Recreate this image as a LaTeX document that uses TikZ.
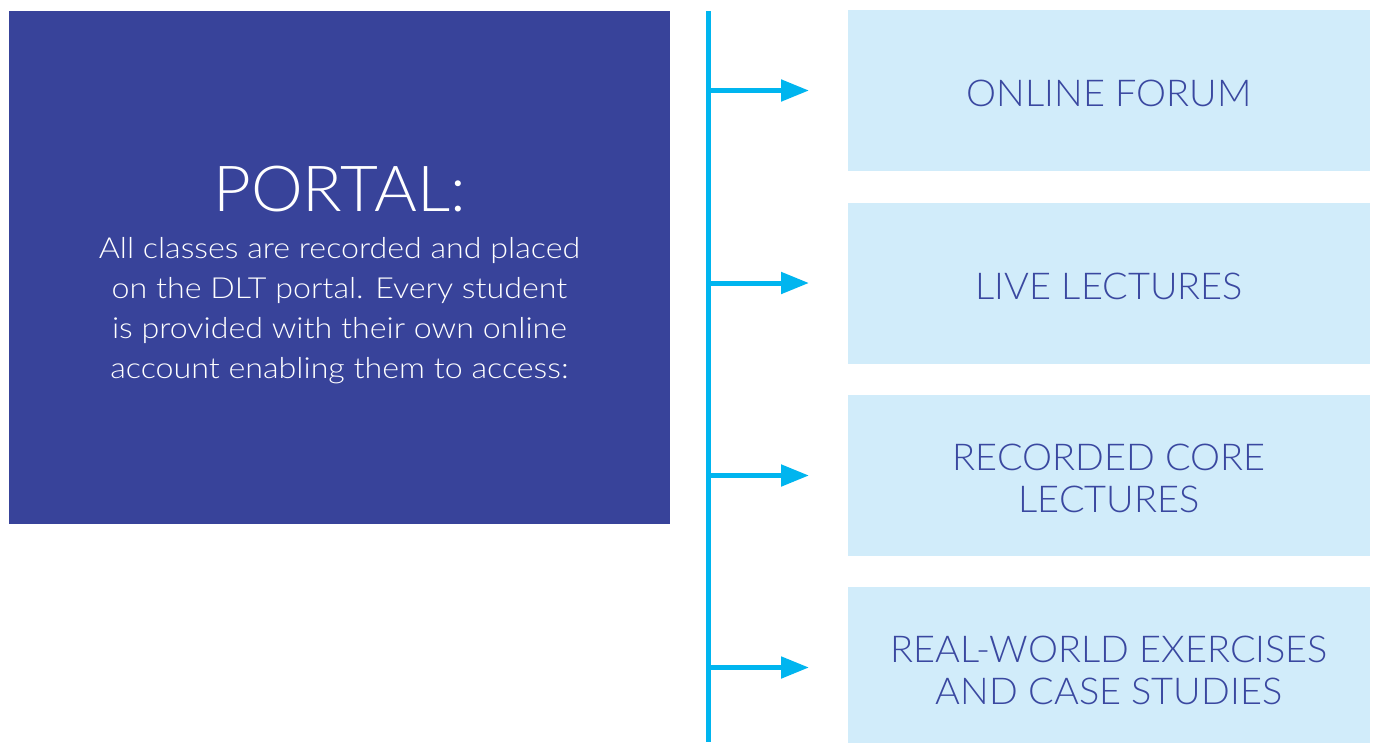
\documentclass[tikz,border=0pt]{standalone}
\usepackage{fontspec}
\setmainfont{Lato Light}
\newfontfamily\bodyfont{Lato Light}[FakeStretch=1.11]
\newfontfamily\itemfont{Lato Light}[FakeStretch=1.025]
\newfontfamily\titlefont{Lato Light}[FakeStretch=1.03]
\usetikzlibrary{arrows.meta}
\definecolor{navy}{HTML}{38439A}
\definecolor{cyanline}{HTML}{00B5EF}
\definecolor{lightbox}{HTML}{D1ECFA}
\definecolor{boxtext}{HTML}{3A48A0}
\tikzset{
  itembox/.style={fill=lightbox, draw=none, minimum width=522pt, minimum height=161pt, anchor=north west, inner sep=0pt},
  itemtext/.style={text=boxtext, font=\itemfont\fontsize{37}{42}\selectfont, align=center, yshift=-3pt},
  conn/.style={draw=cyanline, line width=5pt, -{Triangle[length=28pt,width=21pt]}},
}
\begin{document}
\begin{tikzpicture}[x=1pt,y=-1pt]
\useasboundingbox (0,0) rectangle (1375,742);
\fill[white] (0,0) rectangle (1375,742);
% portal box
\node[fill=navy, minimum width=661pt, minimum height=513pt, anchor=north west, inner sep=0pt] (portal) at (9,11) {};
\node[text=white, font=\titlefont\fontsize{63.5}{63}\selectfont, anchor=base] (ptitle) at (339.5,211) {PORTAL:};
\node[text=white, font=\bodyfont\fontsize{29}{40}\selectfont, align=center, anchor=base] (pbody) at (339.5,378)
  {All classes are recorded and placed\\on the DLT portal. Every student\\is provided with their own online\\account enabling them to access:};
% spine
\coordinate (top) at (708,11);
\coordinate (bot) at (708,742);
\draw[cyanline, line width=5pt] (top) -- (bot);
% boxes
\node[itembox] (b1) at (848,10) {};
\node[itembox] (b2) at (848,202.5) {};
\node[itembox] (b3) at (848,395) {};
\node[itembox] (b4) at (848,587) {};
\node[itemtext] (t1) at (b1.center) {ONLINE FORUM};
\node[itemtext] (t2) at (b2.center) {LIVE LECTURES};
\node[itemtext] (t3) at (b3.center) {RECORDED CORE\\LECTURES};
\node[itemtext] (t4) at (b4.center) {REAL-WORLD EXERCISES\\AND CASE STUDIES};
% arrows
\foreach \i/\y in {1/90.5,2/283,3/475.5,4/667.5}{
  \coordinate (s\i) at (706,\y);
  \coordinate (e\i) at (809,\y);
  \draw[conn] (s\i) -- (e\i);
}
\end{tikzpicture}
\end{document}
